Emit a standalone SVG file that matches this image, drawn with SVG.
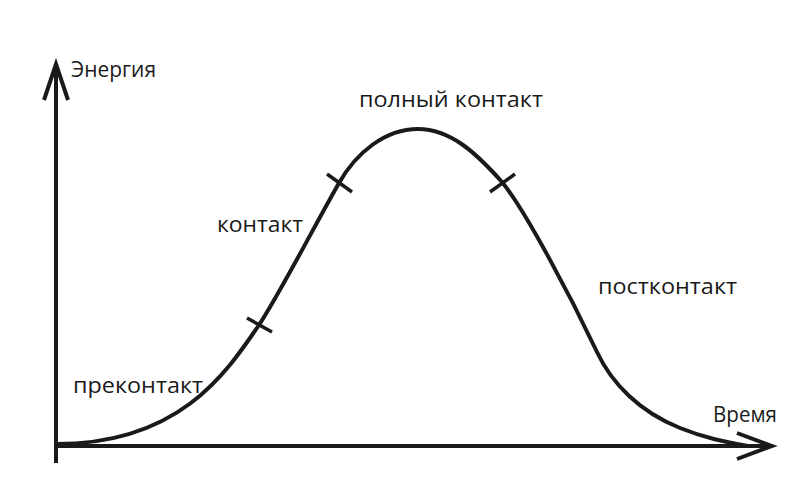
<svg xmlns="http://www.w3.org/2000/svg" width="807" height="491" viewBox="0 0 807 491">
<style>
.ln{fill:none;stroke:#1a1a1a;stroke-width:4;stroke-linecap:butt;stroke-linejoin:miter}
.tk{fill:none;stroke:#1a1a1a;stroke-width:3.5}
text{font-family:"Open Sans","Noto Sans","Liberation Sans",sans-serif;font-size:22.5px;fill:#1a1a1a}
</style>
<rect width="807" height="491" fill="#fff"/>
<g id="axes">
<path class="ln" d="M56,463 V64"/>
<path class="ln" d="M44,100 L56,64 L68,100"/>
<path class="ln" d="M54,446 H772"/>
<path class="ln" d="M737,433 L772,446 L737,459"/>
</g>
<g id="curve">
<path class="ln" d="M56,444 C178,444 225,375 259,325 C280,293 315,225 339,183 C356,153 385,129 418,129 C451,129 477,154 502,182 C525,210 570,295 597,352 C612,384 640,412 680,428 C705,438 725,442 748,446"/>
</g>
<g id="ticks">
<path class="tk" d="M247,318 L272,332"/>
<path class="tk" d="M327,174 L352,192"/>
<path class="tk" d="M490,192 L515,174"/>
</g>
<g id="labels">
<text x="71" y="77" textLength="85" lengthAdjust="spacingAndGlyphs">Энергия</text>
<text x="713" y="422" textLength="64" lengthAdjust="spacingAndGlyphs">Время</text>
<text x="359" y="107" textLength="184" lengthAdjust="spacingAndGlyphs">полный контакт</text>
<text x="217" y="232" textLength="86" lengthAdjust="spacingAndGlyphs">контакт</text>
<text x="598" y="294" textLength="139" lengthAdjust="spacingAndGlyphs">постконтакт</text>
<text x="73" y="393" textLength="130" lengthAdjust="spacingAndGlyphs">преконтакт</text>
</g>
</svg>
